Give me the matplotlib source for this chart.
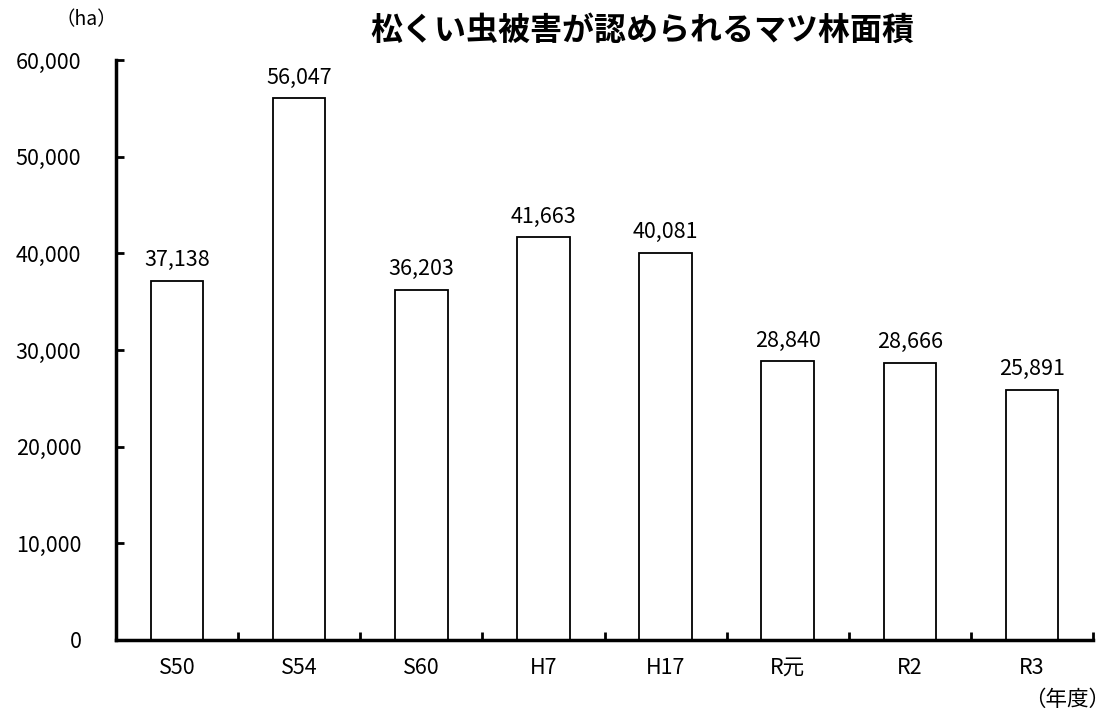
import matplotlib
matplotlib.use("Agg")
import matplotlib.pyplot as plt
from matplotlib.ticker import FuncFormatter, MultipleLocator

plt.rcParams['font.family'] = ['Noto Sans CJK JP', 'DejaVu Sans']

categories = ["S50", "S54", "S60", "H7", "H17", "R元", "R2", "R3"]
values = [37138, 56047, 36203, 41663, 40081, 28840, 28666, 25891]
title = "松くい虫被害が認められるマツ林面積"

fig = plt.figure(figsize=(11.09, 7.19), dpi=100)
ax = fig.add_axes([0.1046, 0.1099, 0.881, 0.8067])

x = list(range(len(categories)))
ax.bar(x, values, width=0.43, color="white", edgecolor="black", linewidth=1.3)
for xi, v in zip(x, values):
    ax.text(xi, v + 1000, f"{v:,}", ha="center", va="bottom", fontsize=15.5)

ax.set_xlim(-0.5, len(categories) - 0.5)
ax.set_ylim(0, 60000)
ax.yaxis.set_major_locator(MultipleLocator(10000))
ax.yaxis.set_major_formatter(FuncFormatter(lambda v, p: f"{int(v):,}"))
ax.tick_params(axis="y", direction="in", length=6, width=2, labelsize=15.5, pad=25)
ax.set_xticks([i + 0.5 for i in x[:-1]] + [len(categories) - 0.5])
ax.set_xticks(x, minor=True)
ax.set_xticklabels([])
ax.set_xticklabels(categories, minor=True)
ax.tick_params(axis="x", which="major", direction="in", length=6, width=2)
ax.tick_params(axis="x", which="minor", length=0, labelsize=15.5, pad=12)

for s in ["top", "right"]:
    ax.spines[s].set_visible(False)
ax.spines["left"].set_linewidth(2.5)
ax.spines["bottom"].set_linewidth(2.5)

fig.text(0.579, 0.957, title, ha="center", va="center", fontsize=23, fontweight="bold")
fig.text(0.078, 0.972, "（ha）", ha="center", va="center", fontsize=14)
fig.text(0.962, 0.026, "（年度）", ha="center", va="center", fontsize=15.5)

fig.savefig("out.png", dpi=100)
